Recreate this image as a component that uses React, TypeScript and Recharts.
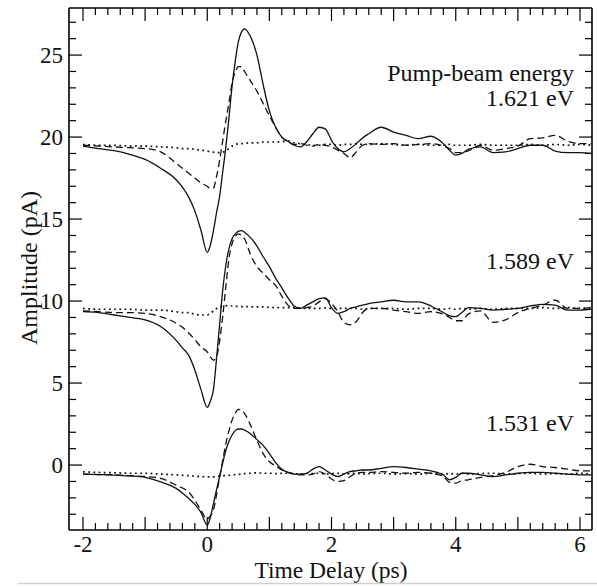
import React from "react";
import { Line, LineChart, ReferenceLine, XAxis, YAxis } from "recharts";

// time delay (ps), shared by all nine traces
const time = [
  -2, -1.75, -1.5, -1.25, -1, -0.75, -0.5, -0.4, -0.3, -0.2,
  -0.1, 0, 0.05, 0.1, 0.15, 0.2, 0.25, 0.3, 0.35, 0.4,
  0.45, 0.5, 0.55, 0.6, 0.7, 0.8, 0.9, 1.0, 1.1, 1.2,
  1.3, 1.4, 1.5, 1.6, 1.7, 1.8, 1.9, 2.0, 2.1, 2.2,
  2.3, 2.4, 2.5, 2.6, 2.8, 3.0, 3.2, 3.4, 3.6, 3.8,
  3.9, 4.0, 4.1, 4.2, 4.4, 4.6, 4.8, 5.0, 5.2, 5.4,
  5.6, 5.8, 6.0, 6.18,
];

// 1.621 eV (offset ~19.5 pA)
const solid1621 = [
  19.45, 19.3, 19.17, 18.95, 18.64, 18.1, 17.4, 16.95, 16.35, 15.5,
  14.3, 12.97, 13.4, 14.3, 15.4, 16.4, 17.9, 19.4, 21.2, 23.1,
  24.6, 25.8, 26.4, 26.6, 26.1, 25.0, 23.2, 21.6, 20.6, 20.0,
  19.75, 19.5, 19.4, 19.7, 20.2, 20.6, 20.5, 19.8, 19.3, 19.1,
  19.3, 19.6, 19.95, 20.2, 20.6, 20.3, 20.1, 19.9, 20.05, 19.6,
  19.2, 18.9, 19.0, 19.25, 19.4, 19.05, 19.1, 19.3, 19.5, 19.5,
  19.15, 19.05, 19.05, 19.0,
];
const dash1621 = [
  19.5, 19.45, 19.4, 19.35, 19.3, 19.1, 18.4, 18.1, 17.8, 17.5,
  17.2, 17.0, 16.85, 16.9, 17.6, 18.6, 19.8, 21.0, 22.1, 23.3,
  23.95, 24.3, 24.3, 24.0, 23.4, 22.8, 22.05, 21.3, 20.6, 20.0,
  19.7, 19.55, 19.6, 19.5, 19.45, 19.55, 19.5, 19.4, 19.2, 19.0,
  18.75, 19.1, 19.5, 19.6, 19.55, 19.6, 19.5, 19.55, 19.6, 19.45,
  19.3, 19.05, 19.05, 19.15, 19.5, 19.2, 19.3, 19.45, 19.9, 19.95,
  20.1, 19.75, 19.6, 19.6,
];
const dot1621 = [
  19.55, 19.5, 19.5, 19.45, 19.45, 19.4, 19.35, 19.3, 19.3, 19.25,
  19.2, 19.15, 19.1, 19.08, 19.05, 19.05, 19.08, 19.15, 19.3, 19.45,
  19.5, 19.6, 19.6, 19.62, 19.65, 19.65, 19.7, 19.7, 19.7, 19.72,
  19.75, 19.65, 19.6, 19.55, 19.5, 19.5, 19.55, 19.55, 19.5, 19.55,
  19.55, 19.6, 19.55, 19.55, 19.6, 19.55, 19.5, 19.55, 19.5, 19.5,
  19.55, 19.5, 19.5, 19.5, 19.55, 19.5, 19.5, 19.5, 19.55, 19.5,
  19.55, 19.5, 19.55, 19.5,
];

// 1.589 eV (offset ~9.5 pA)
const solid1589 = [
  9.35, 9.3, 9.15, 9.0, 8.85, 8.45, 7.6, 7.15, 6.7, 5.8,
  4.6, 3.52, 3.9, 4.6, 6.5, 8.6, 10.7, 12.2, 13.2, 13.8,
  14.1, 14.25, 14.3, 14.2, 13.85, 13.35, 12.7, 12.1, 11.4, 10.8,
  10.2, 9.7, 9.55, 9.75, 9.95, 10.15, 10.2, 9.6, 9.25, 9.35,
  9.55, 9.65, 9.75, 9.85, 9.95, 10.05, 9.95, 9.95, 9.7, 9.3,
  9.1, 9.05, 9.3, 9.6, 9.55, 9.45, 9.5, 9.55, 9.7, 9.8,
  9.75, 9.45, 9.45, 9.5,
];
const dash1589 = [
  9.4, 9.35, 9.3, 9.3, 9.25, 9.05, 8.65, 8.4, 8.05, 7.65,
  7.2, 6.9, 6.6, 6.4, 6.6, 7.6, 9.1, 10.9, 12.6, 13.5,
  13.95, 14.1, 14.0, 13.8, 12.8, 12.1, 11.7, 11.3, 10.95, 10.3,
  9.75, 9.55, 9.55, 9.6, 9.7, 9.95, 10.15, 9.85, 9.35, 8.7,
  8.55, 8.75, 9.3, 9.55, 9.55, 9.45, 9.35, 9.25, 9.35, 9.2,
  9.0, 8.8, 8.8, 9.2, 9.4, 8.7, 8.85, 9.3, 9.55, 9.75,
  10.05, 9.55, 9.55, 9.6,
];
const dot1589 = [
  9.55, 9.5, 9.5, 9.5, 9.45, 9.45, 9.35, 9.3, 9.3, 9.2,
  9.15, 9.15, 9.25, 9.4, 9.55, 9.65, 9.7, 9.72, 9.7, 9.7,
  9.68, 9.68, 9.66, 9.66, 9.65, 9.65, 9.65, 9.62, 9.6, 9.6,
  9.6, 9.6, 9.58, 9.55, 9.55, 9.55, 9.58, 9.55, 9.55, 9.55,
  9.55, 9.55, 9.5, 9.55, 9.55, 9.55, 9.5, 9.55, 9.55, 9.5,
  9.55, 9.5, 9.55, 9.5, 9.55, 9.5, 9.55, 9.55, 9.55, 9.6,
  9.55, 9.6, 9.55, 9.6,
];

// 1.531 eV (offset ~-0.5 pA)
const solid1531 = [
  -0.55, -0.58, -0.61, -0.66, -0.75, -1.02, -1.42, -1.7, -2.03, -2.4,
  -2.9, -3.66, -3.2, -2.35, -1.5, -0.7, 0.15, 0.9, 1.45, 1.83,
  2.1, 2.2, 2.2, 2.13, 1.9, 1.55, 1.2, 0.7, 0.15, -0.25,
  -0.45, -0.55, -0.55, -0.5, -0.25, -0.1, -0.3, -0.55, -0.7, -0.55,
  -0.4, -0.35, -0.3, -0.3, -0.2, -0.1, -0.15, -0.25, -0.35, -0.6,
  -0.9, -0.75, -0.5, -0.5, -0.6, -0.7, -0.6, -0.5, -0.45, -0.45,
  -0.5, -0.55, -0.6, -0.6,
];
const dash1531 = [
  -0.55, -0.58, -0.6, -0.65, -0.7, -0.81, -1.22, -1.4, -1.63, -2.15,
  -2.75, -3.3, -3.1, -2.74, -1.8, -0.71, 0.3, 1.32, 2.1, 2.74,
  3.15, 3.4, 3.35, 3.15, 2.4, 1.5, 0.7, 0.2, -0.05, -0.3,
  -0.45, -0.55, -0.6, -0.6, -0.55, -0.4, -0.55, -0.85, -1.0, -0.95,
  -0.7, -0.5, -0.45, -0.45, -0.4, -0.45, -0.5, -0.45, -0.5, -0.7,
  -1.05, -1.1, -0.95, -0.9, -0.75, -0.65, -0.45, -0.1, 0.05, -0.1,
  -0.15, -0.25, -0.35, -0.35,
];
const dot1531 = [
  -0.41, -0.45, -0.47, -0.5, -0.5, -0.55, -0.6, -0.62, -0.65, -0.68,
  -0.7, -0.72, -0.72, -0.72, -0.7, -0.68, -0.66, -0.64, -0.62, -0.6,
  -0.58, -0.57, -0.55, -0.52, -0.5, -0.47, -0.5, -0.5, -0.52, -0.5,
  -0.5, -0.52, -0.55, -0.5, -0.52, -0.5, -0.55, -0.52, -0.5, -0.55,
  -0.52, -0.5, -0.55, -0.52, -0.5, -0.55, -0.52, -0.55, -0.5, -0.55,
  -0.52, -0.55, -0.5, -0.55, -0.52, -0.5, -0.55, -0.52, -0.5, -0.55,
  -0.52, -0.55, -0.5, -0.55,
];

const xLabels = [-2, 0, 2, 4, 6];
const yLabels = [0, 5, 10, 15, 20, 25];
const xTicks = Array.from({ length: 41 }, (_, i) => +(-2 + i * 0.2).toFixed(1));
const yTicks = Array.from({ length: 31 }, (_, i) => i - 3);

const energyLabels = [
  { text: "Pump-beam energy", y: 81 },
  { text: "1.621 eV", y: 106 },
  { text: "1.589 eV", y: 269 },
  { text: "1.531 eV", y: 431 },
];

const SOLID = undefined;
const DASH = "7 4";
const DOT = "1.8 3.4";

const series = [
  { key: "s1621", values: solid1621, dash: SOLID },
  { key: "d1621", values: dash1621, dash: DASH },
  { key: "p1621", values: dot1621, dash: DOT },
  { key: "s1589", values: solid1589, dash: SOLID },
  { key: "d1589", values: dash1589, dash: DASH },
  { key: "p1589", values: dot1589, dash: DOT },
  { key: "s1531", values: solid1531, dash: SOLID },
  { key: "d1531", values: dash1531, dash: DASH },
  { key: "p1531", values: dot1531, dash: DOT },
];

const rows = time.map((t, i) => {
  const row: Record<string, number> = { t };
  series.forEach((s) => (row[s.key] = s.values[i]));
  return row;
});

const W = 597;
const H = 587;
const margin = { top: 8, right: 5, bottom: 0, left: 0 };
const yAxisW = 69;
const xAxisH = 57;
const plotW = W - margin.right - yAxisW;
const plotH = H - margin.top - xAxisH;
const xMin = -2.225;
const xMax = 6.193;
const yMin = -3.96;
const yMax = 27.87;
// tick lengths in px, turned into data units so the scales place them
const dxPx = (xMax - xMin) / plotW;
const dyPx = (yMax - yMin) / plotH;
const isInt = (v: number) => Math.abs(v - Math.round(v)) < 1e-6;
const xLen = (v: number) => (isInt(v) ? 13 : 7) * dyPx;
const yLen = (v: number) => (v % 5 === 0 ? 13 : 7) * dxPx;

const font = "'Liberation Serif', 'DejaVu Serif', serif";

const BottomLabel = ({ x, y, payload }: any) => (
  <text x={x} y={y + 22} textAnchor="middle" fontSize={23} fontFamily={font} fill="#111">
    {payload.value}
  </text>
);

const LeftLabel = ({ x, y, payload }: any) => (
  <text x={x - 6} y={y + 8} textAnchor="end" fontSize={23} fontFamily={font} fill="#111">
    {payload.value}
  </text>
);

const tickStyle = { stroke: "#000", strokeWidth: 1.2 };
const frameStyle = { stroke: "#000", strokeWidth: 1.6 };

export default function App() {
  return (
    <div style={{ position: "absolute", left: 0, top: 0, width: W, height: H, background: "#fff" }}>
      <LineChart width={W} height={H} data={rows} margin={margin}>
        <XAxis
          dataKey="t"
          type="number"
          domain={[xMin, xMax]}
          allowDataOverflow
          ticks={xLabels}
          interval={0}
          height={xAxisH}
          tickSize={0}
          tickMargin={0}
          axisLine={frameStyle}
          tickLine={false}
          tick={<BottomLabel />}
        />
        <YAxis
          type="number"
          domain={[yMin, yMax]}
          allowDataOverflow
          ticks={yLabels}
          interval={0}
          width={yAxisW}
          tickSize={0}
          tickMargin={0}
          axisLine={frameStyle}
          tickLine={false}
          tick={<LeftLabel />}
        />
        <ReferenceLine y={yMax} {...frameStyle} />
        <ReferenceLine x={xMax} {...frameStyle} />
        {xTicks.map((v) => (
          <ReferenceLine key={`xb${v}`} segment={[{ x: v, y: yMin }, { x: v, y: yMin + xLen(v) }]} {...tickStyle} />
        ))}
        {xTicks.map((v) => (
          <ReferenceLine key={`xt${v}`} segment={[{ x: v, y: yMax }, { x: v, y: yMax - xLen(v) }]} {...tickStyle} />
        ))}
        {yTicks.map((v) => (
          <ReferenceLine key={`yl${v}`} segment={[{ x: xMin, y: v }, { x: xMin + yLen(v), y: v }]} {...tickStyle} />
        ))}
        {yTicks.map((v) => (
          <ReferenceLine key={`yr${v}`} segment={[{ x: xMax, y: v }, { x: xMax - yLen(v), y: v }]} {...tickStyle} />
        ))}
        {series.map((s) => (
          <Line
            key={s.key}
            dataKey={s.key}
            type="monotone"
            stroke="#111"
            strokeWidth={s.dash === DOT ? 1.7 : 1.3}
            strokeDasharray={s.dash}
            dot={false}
            activeDot={false}
            isAnimationActive={false}
          />
        ))}
      </LineChart>
      <svg width={W} height={H} style={{ position: "absolute", left: 0, top: 0, pointerEvents: "none" }}>
        {energyLabels.map((l) => (
          <text key={l.text} x={574} y={l.y} textAnchor="end" fontSize={24} fontFamily={font} fill="#111">
            {l.text}
          </text>
        ))}
        <text x={331} y={578} textAnchor="middle" fontSize={23.5} fontFamily={font} fill="#111">
          Time Delay (ps)
        </text>
        <text
          x={0}
          y={0}
          transform="translate(37 268) rotate(-90)"
          textAnchor="middle"
          fontSize={24}
          fontFamily={font}
          fill="#111"
        >
          Amplitude (pA)
        </text>
        <line x1={18} x2={W} y1={583.5} y2={583.5} stroke="#d0d0d0" strokeWidth={1.5} />
      </svg>
    </div>
  );
}
